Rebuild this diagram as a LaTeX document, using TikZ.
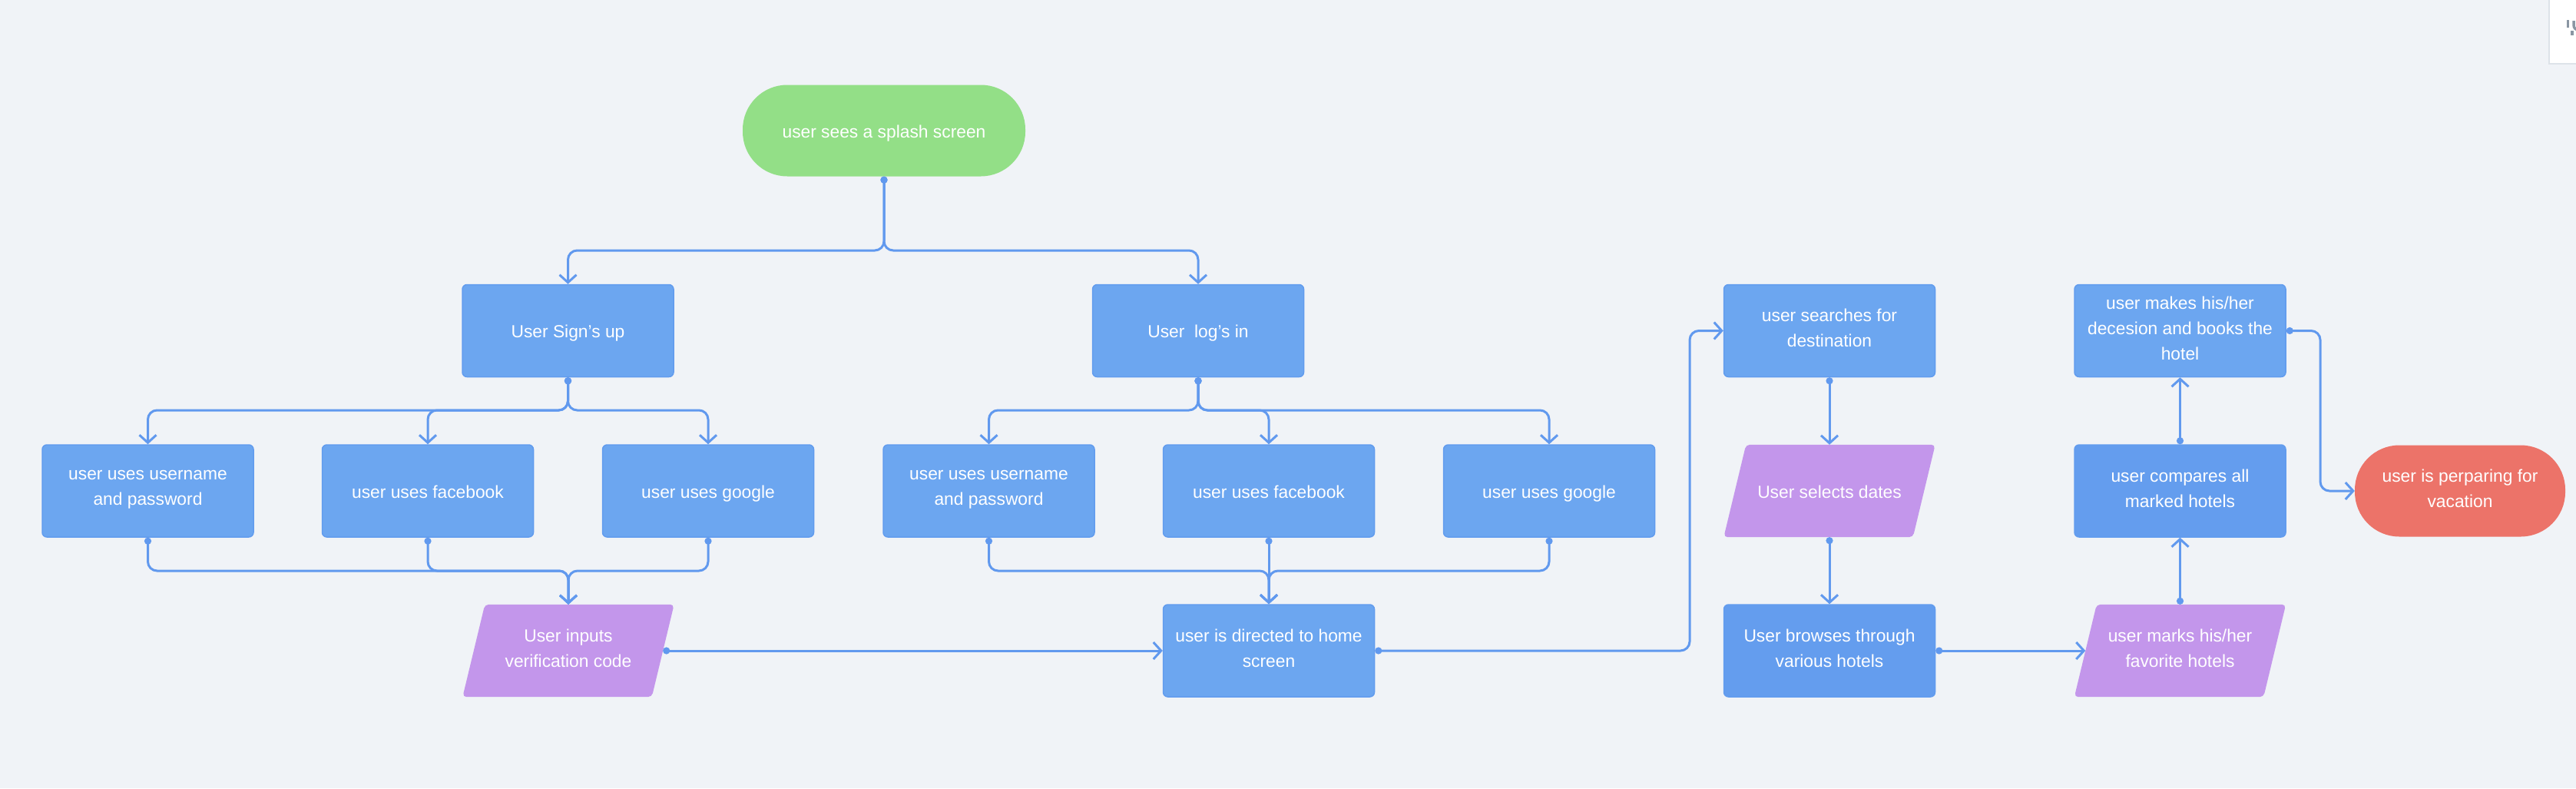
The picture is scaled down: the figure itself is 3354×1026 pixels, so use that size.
\documentclass[tikz,border=0pt]{standalone}
\usepackage{fontspec}
\setmainfont{Liberation Sans}
\usetikzlibrary{arrows.meta,calc}
\definecolor{bgc}{HTML}{F0F3F7}
\definecolor{boxc}{HTML}{6CA6F0}
\definecolor{boxd}{HTML}{649DEE}
\definecolor{bordc}{HTML}{629CEE}
\definecolor{purp}{HTML}{C396EB}
\definecolor{greenc}{HTML}{93DF87}
\definecolor{redc}{HTML}{EC7369}
\definecolor{linec}{HTML}{6199EE}
\definecolor{panelb}{HTML}{DDE3E9}
\definecolor{glyphc}{HTML}{8A96A3}
\pgfdeclarelayer{background}
\pgfsetlayers{background,main}
\newcommand{\paragram}[1]{%
  \fill[purp, rounded corners=5pt] ([xshift=29pt]#1.north west) -- (#1.north east) -- ([xshift=-29pt]#1.south east) -- (#1.south west) -- cycle;}
\newcommand{\mystrut}{\rule[-7.5pt]{0pt}{33pt}}
\begin{document}
\begin{tikzpicture}[x=1pt,y=-1pt,
  every node/.style={font=\fontsize{22.8}{33}\selectfont, text=white, align=center, inner sep=0pt,
    execute at begin node=\mystrut, execute at end node=\mystrut},
  box/.style={rectangle, rounded corners=6pt, fill=boxc, draw=bordc, line width=1.5pt, minimum width=275pt, minimum height=120pt},
  boxdk/.style={box, fill=boxd},
  para/.style={rectangle, minimum width=275pt, minimum height=120pt},
  term/.style={rectangle, rounded corners=58pt, minimum height=119pt},
  conn/.style={draw=linec, line width=3pt, rounded corners=12pt,
    {Circle[length=9pt]}-{Straight Barb[length=10pt,width=22pt,line width=3pt]}}
]
\useasboundingbox (0,0) rectangle (3354,1026);

% nodes
\node[term, fill=greenc, minimum width=368pt] (splash) at (1151,170) {user sees a splash screen};
\node[box] (signup) at (739.5,430.5) {User Sign's up};
\node[box] (login) at (1560,430.5) {User~~log's in};

\node[box] (u1) at (192.5,639) {user uses username\\and password};
\node[box] (f1) at (557,639) {user uses facebook};
\node[box] (g1) at (922,639) {user uses google};

\node[box] (u2) at (1287.5,639) {user uses username\\and password};
\node[box] (f2) at (1652,639) {user uses facebook};
\node[box] (g2) at (2017,639) {user uses google};

\node[para] (vc) at (740,847) {User inputs\\verification code};
\node[box] (home) at (1652,847) {user is directed to home\\screen};

\node[box] (search) at (2382,430.5) {user searches for\\destination};
\node[para] (dates) at (2382,639) {User selects dates};
\node[boxdk] (browse) at (2382,847) {User browses through\\various hotels};

\node[box] (makes) at (2838.5,430.5) {user makes his/her\\decesion and books the\\hotel};
\node[boxdk] (compares) at (2838.5,639) {user compares all\\marked hotels};
\node[para] (marks) at (2838.5,847) {user marks his/her\\favorite hotels};

\node[term, fill=redc, minimum width=274pt] (vacation) at (3203,639) {user is perparing for\\vacation};

% background layer
\begin{pgfonlayer}{background}
\fill[bgc] (0,0) rectangle (3354,1026);
\filldraw[fill=white, draw=panelb, line width=1.5pt] (3319,-5) rectangle (3362,83);
\fill[glyphc] (3341.5,26) rectangle (3345,36);
\draw[glyphc, line width=3.5pt] (3351,27) -- (3351,33) arc[start angle=180, end angle=270, radius=6pt];
\draw[glyphc, line width=3.5pt] (3349,40) -- (3349,46);
\paragram{vc}
\paragram{dates}
\paragram{marks}
\end{pgfonlayer}

% bus coordinates
\coordinate (b0) at (0,326);
\coordinate (b1) at (0,534);
\coordinate (b2) at (0,743);
\coordinate (c1) at (2200,0);
\coordinate (c2) at (3021,0);

% splash fork
\draw[conn] (splash.south) -- (splash.south |- b0) -| (signup.north);
\draw[conn] (splash.south) -- (splash.south |- b0) -| (login.north);

% sign up fork
\draw[conn] (signup.south) -- (signup.south |- b1) -| (u1.north);
\draw[conn] (signup.south) -- (signup.south |- b1) -| (f1.north);
\draw[conn] (signup.south) -- (signup.south |- b1) -| (g1.north);

% login fork
\draw[conn] (login.south) -- (login.south |- b1) -| (u2.north);
\draw[conn] (login.south) -- (login.south |- b1) -| (f2.north);
\draw[conn] (login.south) -- (login.south |- b1) -| (g2.north);

% merges to verification
\draw[conn] (u1.south) |- (vc.north |- b2) -- (vc.north);
\draw[conn] (f1.south) |- (vc.north |- b2) -- (vc.north);
\draw[conn] (g1.south) |- (vc.north |- b2) -- (vc.north);

% merges to home
\draw[conn] (u2.south) |- (home.north |- b2) -- (home.north);
\draw[conn] (f2.south) -- (home.north);
\draw[conn] (g2.south) |- (home.north |- b2) -- (home.north);

% main flow
\draw[conn] ([xshift=-14.5pt]vc.east) -- (home.west);
\draw[conn] (home.east) -- (home.east -| c1) |- (search.west);
\draw[conn] (search.south) -- (dates.north);
\draw[conn] (dates.south) -- (browse.north);
\draw[conn] (browse.east) -- ([xshift=14.5pt]marks.west);
\draw[conn] (marks.north) -- (compares.south);
\draw[conn] (compares.north) -- (makes.south);
\draw[conn] (makes.east) -- (makes.east -| c2) |- (vacation.west);
\end{tikzpicture}
\end{document}
